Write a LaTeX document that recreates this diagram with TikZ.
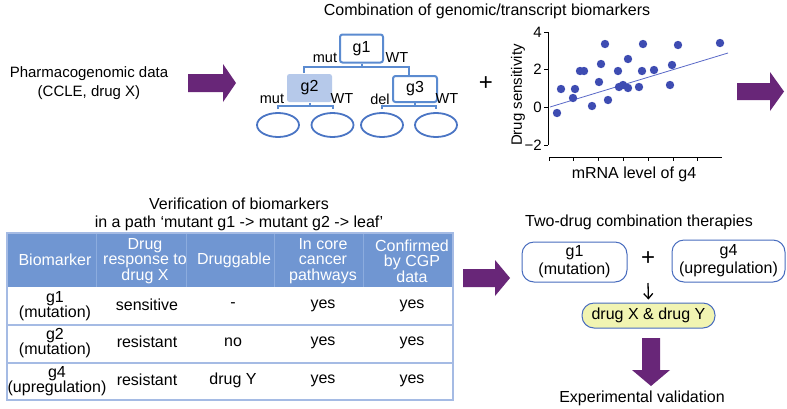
\documentclass[tikz,border=0pt]{standalone}
\usepackage{fontspec}
\setmainfont{Liberation Sans}
\usetikzlibrary{arrows.meta,shapes.geometric}
\definecolor{purp}{RGB}{104,38,120}
\definecolor{treeblue}{RGB}{91,139,208}
\definecolor{gtwofill}{RGB}{182,201,234}
\definecolor{ellblue}{RGB}{74,117,196}
\definecolor{dotblue}{RGB}{62,76,178}
\definecolor{lineblue}{RGB}{90,105,200}
\definecolor{hdrblue}{RGB}{112,150,210}
\definecolor{hdrsep}{RGB}{140,172,222}
\definecolor{rowline}{RGB}{165,187,228}
\definecolor{boxblue}{RGB}{72,108,190}
\definecolor{yel}{RGB}{241,244,178}
\tikzset{
  txt/.style={font=\fontsize{16}{16}\selectfont, inner sep=0pt, align=center},
  cell/.style={font=\fontsize{16}{15.5}\selectfont, inner sep=0pt, align=center},
  hdr/.style={cell, text=white},
  lbl/.style={font=\fontsize{14.5}{15}\selectfont, inner sep=0pt},
  tick/.style={font=\fontsize{15}{15}\selectfont, inner sep=0pt},
  treebox/.style={draw=treeblue, line width=2pt, rounded corners=2.5pt, minimum width=43pt, minimum height=28pt, inner sep=0pt, font=\fontsize{16}{16}\selectfont},
  leaf/.style={ellipse, draw=ellblue, line width=1.8pt, minimum width=42pt, minimum height=24pt, inner sep=0pt},
  tl/.style={draw=treeblue, line width=2pt},
  axisline/.style={draw=black, line width=0.9pt},
  pill/.style={draw=boxblue, line width=1pt, rounded corners=12pt, inner sep=2pt, align=center, font=\fontsize{16}{18}\selectfont},
  bigarrow/.style={fill=purp}
}
\begin{document}
\begin{tikzpicture}[x=1pt,y=-1pt]
\useasboundingbox (0,0) rectangle (787,408);
\fill[white] (0,0) rectangle (787,408);

% ---- section 1 ----
\node[align=center, inner sep=0pt, font=\fontsize{15}{19}\selectfont] (pgd) at (89,83) {Pharmacogenomic data\\(CCLE, drug X)};
\fill[bigarrow] (188,74) -- (223,74) -- (223,64) -- (236,83) -- (223,102) -- (223,92) -- (188,92) -- cycle;

\node[txt] (title1) at (487,11) {Combination of genomic/transcript biomarkers};

% tree
\node[treebox] (g1) at (361.5,48.5) {g1};
\node[treebox, draw=none, fill=gtwofill, minimum width=45pt] (g2) at (309.5,88) {g2};
\node[treebox, minimum width=44pt, minimum height=26pt] (g3) at (415,89) {g3};
\node[leaf] (l1) at (278,125) {};
\node[leaf] (l2) at (332.5,125) {};
\node[leaf] (l3) at (382,125) {};
\node[leaf] (l4) at (436,125) {};
\coordinate (b1L) at (304,67);
\coordinate (b1R) at (409,67);
\coordinate (b2) at (0,106);
\draw[tl] (g1.south) -- (g1.south |- b1L);
\draw[tl] (g2.north -| b1L) -- (b1L) -- (b1R) -- (g3.north -| b1R);
\draw[tl] (g2.south) -- (g2.south |- b2);
\draw[tl] ([yshift=3pt]l1.north) -- (l1.north |- b2) -- (l2.north |- b2) -- ([yshift=3pt]l2.north);
\draw[tl] (g3.south) -- (g3.south |- b2);
\draw[tl] ([yshift=3pt]l3.north) -- (l3.north |- b2) -- (l4.north |- b2) -- ([yshift=3pt]l4.north);
\node[lbl] (lm1) at (325,58) {mut};
\node[lbl] (lw1) at (397,58) {WT};
\node[lbl] (lm2) at (272,99) {mut};
\node[lbl] (lw2) at (342,99) {WT};
\node[lbl] (ld3) at (380,99) {del};
\node[lbl] (lw3) at (447,99) {WT};

\node[inner sep=0pt, font=\fontsize{24}{24}\selectfont] (plus1) at (486,84) {+};

% scatter plot
\draw[axisline] (548,32) -- (548,145);
\foreach \v/\t in {4/4,2/2,0/0,-2/−2} {
  \draw[axisline] (544,{107.3-18.83*\v}) -- (548,{107.3-18.83*\v});
  \node[tick, anchor=east] at (542,{107.3-18.83*\v}) {\t};
}
\draw[axisline] (549,157) -- (722,157);
\foreach \i in {0,...,6} {
  \draw[axisline] ({549+24.8*\i},157) -- ({549+24.8*\i},161);
}
\node[tick, rotate=90] (ylab) at (518,95) {Drug sensitivity};
\node[txt] (xlab) at (634,174) {mRNA level of g4};
\draw[lineblue, line width=0.8pt] (550,107) -- (728,53);
\foreach \px/\py in {557/113,561/89,573/98,575/89,580/71,584/71,592/106,599/82,601/64,605/44,608/100,618/71,619/87,623/85,628/59,628/88,639/87,642/71,643/44,654/70,670/85,672/65,678/45,720/43} {
  \fill[dotblue] (\px,\py) circle[radius=4.2pt];
}
\fill[bigarrow] (737,83) -- (770,83) -- (770,72) -- (784,91.5) -- (770,111) -- (770,100) -- (737,100) -- cycle;

% ---- section 2: table ----
\node[align=center, inner sep=0pt, font=\fontsize{16}{18}\selectfont] (title2) at (239,214) {Verification of biomarkers\\in a path ‘mutant g1 -> mutant g2 -> leaf’};
\fill[hdrblue] (7,233) rectangle (453,287);
\foreach \cx in {96,186,274,363} {
  \draw[hdrsep, line width=1pt] (\cx,233) -- (\cx,287);
}
\draw[rowline, line width=1.5pt] (7,233) rectangle (453,400);
\draw[rowline, line width=1.5pt] (7,325) -- (453,325);
\draw[rowline, line width=1.5pt] (7,363) -- (453,363);
\node[hdr] (h1) at (55,260) {Biomarker};
\node[hdr] (h2) at (145,261) {Drug\\response to\\drug X};
\node[hdr] (h3) at (234,260) {Druggable};
\node[hdr] (h4) at (323,261) {In core\\cancer\\pathways};
\node[hdr] (h5) at (412,261) {Confirmed\\by CGP\\data};

\node[cell] (r1a) at (55,306) {g1\\(mutation)};
\node[cell] (r1b) at (147,305) {sensitive};
\node[cell] (r1c) at (233,305) {-};
\node[cell] (r1d) at (323,306) {yes};
\node[cell] (r1e) at (412,306) {yes};
\node[cell] (r2a) at (55,343) {g2\\(mutation)};
\node[cell] (r2b) at (147,342) {resistant};
\node[cell] (r2c) at (233,342) {no};
\node[cell] (r2d) at (323,343) {yes};
\node[cell] (r2e) at (412,343) {yes};
\node[cell] (r3a) at (57,381) {g4\\(upregulation)};
\node[cell] (r3b) at (147,380) {resistant};
\node[cell] (r3c) at (233,380) {drug Y};
\node[cell] (r3d) at (323,381) {yes};
\node[cell] (r3e) at (412,381) {yes};

\fill[bigarrow] (463,269) -- (495,269) -- (495,260) -- (510,278) -- (495,296) -- (495,287) -- (463,287) -- cycle;

% ---- section 3 ----
\node[txt] (title3) at (639,222) {Two-drug combination therapies};
\node[pill, minimum width=105pt, minimum height=40pt] (p1) at (574.5,262) {g1\\(mutation)};
\node[pill, minimum width=113pt, minimum height=42pt] (p2) at (728.5,261) {g4\\(upregulation)};
\node[inner sep=0pt, font=\fontsize{24}{24}\selectfont] (plus2) at (648,259) {+};
\node[pill, fill=yel, minimum width=133pt, minimum height=25pt, inner sep=1pt] (dxy) at (648.5,315.5) {drug X \& drug Y};
\draw[-{Straight Barb[length=5pt,width=9pt]}, line width=1.3pt, shorten >=3pt] ([yshift=-24pt]plus2.center) -- (dxy.north);
\fill[bigarrow] (642,338) -- (660,338) -- (660,370) -- (670,370) -- (651,386) -- (632,370) -- (642,370) -- cycle;
\node[txt] (expv) at (642,398) {Experimental validation};
\end{tikzpicture}
\end{document}
